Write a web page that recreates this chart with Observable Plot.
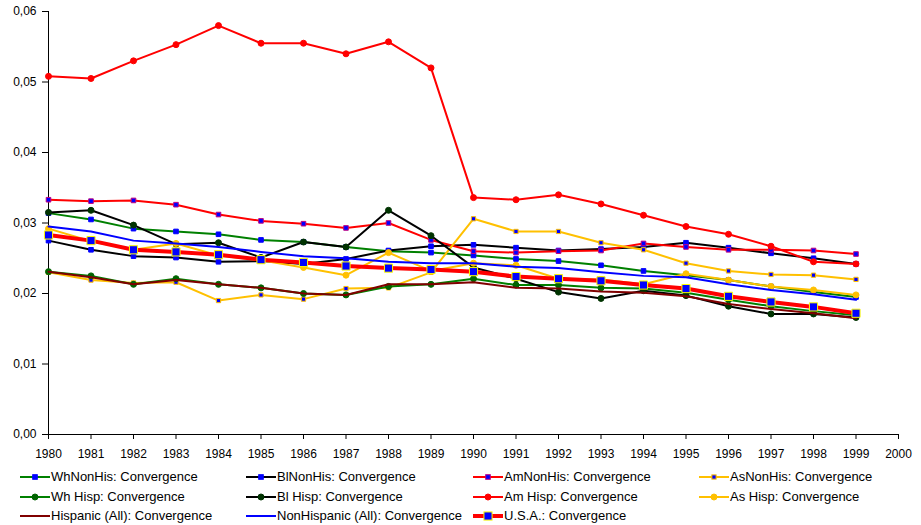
<!DOCTYPE html>
<html><head><meta charset="utf-8">
<script src="https://cdn.jsdelivr.net/npm/d3@7"></script>
<script src="https://cdn.jsdelivr.net/npm/@observablehq/plot@0.6"></script>
<style>
body{margin:0;background:#fff;font-family:"Liberation Sans",Arial,sans-serif;}
#legend{position:relative;width:921px;height:60px;}
.item{position:absolute;display:flex;align-items:center;height:14px;line-height:14px;font-size:13px;color:#000;white-space:nowrap;}
.item svg{margin-right:1px;}
</style></head><body>
<div id="chart"></div><div id="legend"></div>
<script>
const years = [1980,1981,1982,1983,1984,1985,1986,1987,1988,1989,1990,1991,1992,1993,1994,1995,1996,1997,1998,1999];
const xTicks = [1980,1981,1982,1983,1984,1985,1986,1987,1988,1989,1990,1991,1992,1993,1994,1995,1996,1997,1998,1999,2000];
const yTicks = [0,0.01,0.02,0.03,0.04,0.05,0.06];

const whNonHis = [0.0314,0.0305,0.0292,0.0288,0.0284,0.0276,0.0273,0.0266,0.0260,0.0258,0.0254,0.0249,0.0246,0.0240,0.0232,0.0226,0.0219,0.0210,0.0202,0.0195];
const blNonHis = [0.0275,0.0262,0.0253,0.0251,0.0245,0.0246,0.0242,0.0249,0.0261,0.0267,0.0269,0.0265,0.0261,0.0263,0.0266,0.0272,0.0265,0.0257,0.0250,0.0242];
const amNonHis = [0.0333,0.0331,0.0332,0.0326,0.0312,0.0303,0.0299,0.0293,0.0300,0.0276,0.0260,0.0258,0.0260,0.0261,0.0271,0.0266,0.0262,0.0262,0.0261,0.0256];
const asNonHis = [0.0230,0.0219,0.0215,0.0216,0.0190,0.0198,0.0192,0.0207,0.0208,0.0230,0.0306,0.0288,0.0288,0.0272,0.0262,0.0243,0.0232,0.0227,0.0226,0.0220];
const whHisp   = [0.0231,0.0225,0.0213,0.0221,0.0213,0.0208,0.0200,0.0198,0.0210,0.0213,0.0221,0.0212,0.0212,0.0208,0.0207,0.0201,0.0191,0.0182,0.0175,0.0169];
const blHisp   = [0.0315,0.0318,0.0297,0.0270,0.0272,0.0251,0.0273,0.0266,0.0318,0.0282,0.0237,0.0221,0.0202,0.0193,0.0204,0.0197,0.0182,0.0171,0.0171,0.0166];
const amHisp   = [0.0508,0.0505,0.0530,0.0553,0.0580,0.0555,0.0555,0.0540,0.0557,0.0520,0.0336,0.0333,0.0340,0.0327,0.0311,0.0295,0.0284,0.0267,0.0245,0.0242];
const asHisp   = [0.0292,0.0274,0.0262,0.0271,0.0254,0.0247,0.0237,0.0226,0.0258,0.0232,0.0243,0.0240,0.0221,0.0220,0.0213,0.0228,0.0219,0.0210,0.0205,0.0198];
const hispAll  = [0.0231,0.0223,0.0213,0.0219,0.0213,0.0208,0.0200,0.0198,0.0213,0.0213,0.0216,0.0208,0.0207,0.0203,0.0201,0.0196,0.0185,0.0178,0.0172,0.0165];
const nonHispAll=[0.0295,0.0288,0.0275,0.0271,0.0266,0.0259,0.0253,0.0250,0.0245,0.0243,0.0243,0.0238,0.0236,0.0230,0.0225,0.0223,0.0213,0.0205,0.0199,0.0191];
const usa      = [0.0283,0.0275,0.0262,0.0259,0.0255,0.0248,0.0244,0.0239,0.0236,0.0234,0.0231,0.0224,0.0221,0.0218,0.0212,0.0207,0.0196,0.0188,0.0181,0.0172];

const seriesNames = ["WhNonHis: Convergence","BlNonHis: Convergence","AmNonHis: Convergence","AsNonHis: Convergence",
  "Wh Hisp: Convergence","Bl Hisp: Convergence","Am Hisp: Convergence","As Hisp: Convergence",
  "Hispanic (All): Convergence","NonHispanic (All): Convergence","U.S.A.: Convergence"];
const seriesValues = [whNonHis,blNonHis,amNonHis,asNonHis,whHisp,blHisp,amHisp,asHisp,hispAll,nonHispAll,usa];

// styles (kept apart from data)
const GREEN="#008000", BLACK="#000000", RED="#FF0000", GOLD="#FFC000", MAROON="#800000", BLUE="#0000FF";
const styles = [
  {stroke:GREEN, sw:2, symbol:"square", r:2.6, fill:BLUE, mstroke:BLUE},
  {stroke:BLACK, sw:2, symbol:"square", r:2.6, fill:BLUE, mstroke:BLUE},
  {stroke:RED, sw:2, symbol:"square", r:2.6, fill:BLUE, mstroke:"#C00080"},
  {stroke:GOLD, sw:2, symbol:"square", r:2.4, fill:BLUE, mstroke:GOLD},
  {stroke:GREEN, sw:2, symbol:"circle", r:3, fill:"#006400", mstroke:"#006400"},
  {stroke:BLACK, sw:2, symbol:"circle", r:3, fill:"#003300", mstroke:"#003300"},
  {stroke:RED, sw:2, symbol:"circle", r:3, fill:RED, mstroke:RED},
  {stroke:GOLD, sw:2, symbol:"circle", r:3, fill:GOLD, mstroke:GOLD},
  {stroke:MAROON, sw:2, symbol:null},
  {stroke:BLUE, sw:2, symbol:null},
  {stroke:RED, sw:4, symbol:"square", r:4.6, fill:BLUE, mstroke:"#FFFF00"}
];

const table = [];
seriesNames.forEach((name,i) => years.forEach((yr,j) => table.push({series:name, idx:i, year:yr, value:seriesValues[i][j]})));

const marks = [
  Plot.ruleY([0], {stroke:"#000", strokeWidth:1}),
  Plot.ruleX([1980], {stroke:"#000", strokeWidth:1})
];
seriesNames.forEach((name,i) => {
  const st = styles[i];
  const d = table.filter(t => t.idx === i);
  marks.push(Plot.line(d, {x:"year", y:"value", stroke:st.stroke, strokeWidth:st.sw, strokeLinejoin:"round"}));
  if (st.symbol) marks.push(Plot.dot(d, {x:"year", y:"value", symbol:st.symbol, r:st.r, fill:st.fill, stroke:st.mstroke, strokeWidth:1}));
});

const fmt = v => v.toFixed(2).replace(".", ",");
const chart = Plot.plot({
  width:921, height:465,
  marginLeft:48, marginRight:23, marginTop:11, marginBottom:31,
  style:{fontFamily:"Liberation Sans, Arial, sans-serif", fontSize:"12px", color:"#000", background:"#fff"},
  x:{domain:[1980,2000], ticks:xTicks, tickFormat:d=>String(d), tickSize:5, tickPadding:10, label:null},
  y:{domain:[0,0.06], ticks:yTicks, tickFormat:fmt, tickSize:6, tickPadding:6, label:null},
  marks
});
document.getElementById("chart").appendChild(chart);

// legend
const legend = document.getElementById("legend");
const colX = [20,246,473,699];
const rowY = [5,24.5,44];
seriesNames.forEach((name,i) => {
  const st = styles[i];
  const div = document.createElement("div");
  div.className = "item";
  div.style.left = colX[i%4] + "px";
  div.style.top = rowY[Math.floor(i/4)] + "px";
  const W = 30, H = 12;
  let m = "";
  if (st.symbol === "square") {
    const s = st.r*1.77;
    m = `<rect x="${W/2 - s/2}" y="${H/2 - s/2}" width="${s}" height="${s}" fill="${st.fill}" stroke="${st.mstroke}" stroke-width="1"/>`;
  } else if (st.symbol === "circle") {
    m = `<circle cx="${W/2}" cy="${H/2}" r="${st.r}" fill="${st.fill}" stroke="${st.mstroke}"/>`;
  }
  div.innerHTML = `<svg width="${W}" height="${H}"><line x1="0" x2="${W}" y1="${H/2}" y2="${H/2}" stroke="${st.stroke}" stroke-width="${st.sw}"/>${m}</svg><span>${name}</span>`;
  legend.appendChild(div);
});
</script>
</body></html>
